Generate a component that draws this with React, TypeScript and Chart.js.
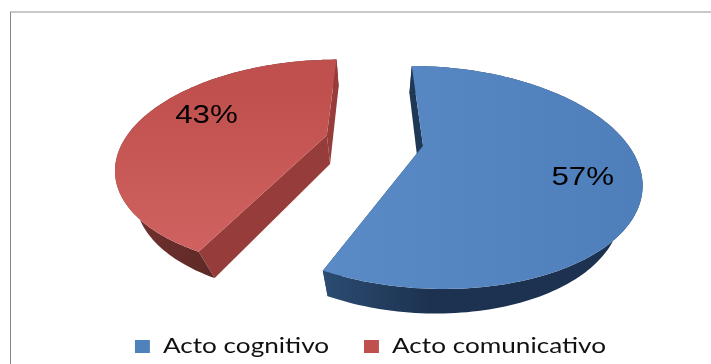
import React, { useEffect, useRef } from "react";
import { Chart, registerables } from "chart.js";

Chart.register(...registerables);

const categories = ["Acto cognitivo", "Acto comunicativo"];
const shares = [57, 43];
const topColors = ["#4F81BD", "#C0504D"];

// Camera used to lay the pie plane out in perspective: ground coordinates are in
// pie radii, z runs from the top face (0) to the bottom face (1).
const VANISH_X = 372;
const VANISH_Y = -215;
const SCALE_U = 0.57;
const SHIFT_U = 0.0063;
const DEPTH_BASE = 0.002813;
const DEPTH_V = 0.000787;
const DEPTH_Z = 0.00022;
const THICKNESS = 0.165;
const EXPLODE = 0.243;
const LABEL_RADIUS = 0.73;
const LABEL_TURN = 0.14;
const LEGEND_STRETCH = 1.245;
const LEGEND_CENTER = 370.5;
const LEGEND_DROP = 3;

function project(u: number, v: number, z: number) {
  const w = DEPTH_BASE + DEPTH_Z * z - DEPTH_V * v;
  return {
    x: VANISH_X + (SCALE_U * u + SHIFT_U) / w,
    y: VANISH_Y + (1 + THICKNESS * z) / w,
  };
}

type Pt = { x: number; y: number };

function fillPath(ctx: CanvasRenderingContext2D, pts: Pt[], fill: string | CanvasGradient) {
  ctx.beginPath();
  pts.forEach((p, i) => (i ? ctx.lineTo(p.x, p.y) : ctx.moveTo(p.x, p.y)));
  ctx.closePath();
  ctx.fillStyle = fill;
  ctx.fill();
}

function linear(ctx: CanvasRenderingContext2D, x0: number, y0: number, x1: number, y1: number, a: string, b: string) {
  const g = ctx.createLinearGradient(x0, y0, x1, y1);
  g.addColorStop(0, a);
  g.addColorStop(1, b);
  return g;
}

const pie3d = {
  id: "pie3d",
  // the legend keeps its own layout and is drawn widened under a transform
  afterLayout(chart: Chart) {
    const legend = chart.legend as any;
    if (legend.__wide) return;
    legend.__wide = true;
    const draw = legend.draw;
    legend.draw = function () {
      const { ctx } = chart;
      ctx.save();
      ctx.translate(LEGEND_CENTER, LEGEND_DROP);
      ctx.scale(LEGEND_STRETCH, 1);
      ctx.translate(-chart.width / 2, 0);
      draw.call(legend);
      ctx.restore();
    };
  },
  beforeDraw(chart: Chart) {
    const { ctx } = chart;
    ctx.save();
    ctx.fillStyle = "#ffffff";
    ctx.fillRect(0, 0, chart.width, chart.height);
    ctx.fillStyle = "#c9c9c9";
    ctx.fillRect(10, 11, chart.width - 10, 2);
    ctx.fillStyle = "#868686";
    ctx.fillRect(10, 12, 1, chart.height - 12);
    ctx.restore();
  },
  beforeDatasetDraw(chart: Chart) {
    const { ctx } = chart;
    const arcs = chart.getDatasetMeta(0).data as any[];
    ctx.save();
    arcs.forEach((arc, i) => {
      const { startAngle, endAngle } = arc.getProps(["startAngle", "endAngle"], true);
      const mid = (startAngle + endAngle) / 2;
      const cu = EXPLODE * Math.cos(mid);
      const cv = EXPLODE * Math.sin(mid);
      const rim = (t: number, z: number) => project(cu + Math.cos(t), cv + Math.sin(t), z);
      const steps = 160;
      const upper: Pt[] = [];
      const lower: Pt[] = [];
      for (let k = 0; k <= steps; k++) {
        const t = startAngle + ((endAngle - startAngle) * k) / steps;
        upper.push(rim(t, 0));
        lower.push(rim(t, 1));
      }
      const hubTop = project(cu, cv, 0);
      const hubLow = project(cu, cv, 1);
      const blue = i === 0;
      const firstWall = [hubTop, upper[0], lower[0], hubLow];
      const lastWall = [hubTop, upper[steps], lower[steps], hubLow];
      const wallFill = blue ? "#1f3856" : "#963c3a";

      // cut wall hidden by the rim, then the rim, then the cut wall in view
      fillPath(ctx, blue ? lastWall : firstWall, wallFill);
      fillPath(
        ctx,
        [...upper, ...lower.slice().reverse()],
        blue
          ? linear(ctx, 325, 0, 430, 0, "#2b4b71", "#1d3250")
          : linear(ctx, 140, 0, 210, 0, "#6f302d", "#5f2a27")
      );
      fillPath(ctx, blue ? firstWall : lastWall, wallFill);
      // top face
      fillPath(
        ctx,
        [hubTop, ...upper],
        blue
          ? linear(ctx, 320, 0, 640, 0, "#5a8bc7", "#4e7fba")
          : linear(ctx, 0, 90, 0, 250, "#C0504D", "#cf6260")
      );
    });
    // percentage labels
    const values = chart.data.datasets[0].data as number[];
    arcs.forEach((arc, i) => {
      const { startAngle, endAngle } = arc.getProps(["startAngle", "endAngle"], true);
      const mid = (startAngle + endAngle) / 2;
      const at = mid + LABEL_TURN;
      const p = project(
        EXPLODE * Math.cos(mid) + LABEL_RADIUS * Math.cos(at),
        EXPLODE * Math.sin(mid) + LABEL_RADIUS * Math.sin(at),
        0
      );
      ctx.save();
      ctx.translate(p.x + 4, p.y + 4);
      ctx.scale(1.25, 1);
      ctx.font = '25px "Liberation Sans"';
      ctx.fillStyle = "#000000";
      ctx.textAlign = "center";
      ctx.textBaseline = "middle";
      ctx.fillText(`${values[i]}%`, 0, 0);
      ctx.restore();
    });
    ctx.restore();
    return false;
  },
};

export default function App() {
  const ref = useRef<HTMLCanvasElement>(null);
  useEffect(() => {
    const chart = new Chart(ref.current!, {
      type: "pie",
      data: {
        labels: categories,
        datasets: [{ data: shares, backgroundColor: topColors, borderWidth: 0 }],
      },
      options: {
        responsive: false,
        animation: false,
        rotation: 0,
        plugins: {
          tooltip: { enabled: false },
          legend: {
            position: "bottom",
            labels: {
              boxWidth: 12,
              boxHeight: 13,
              padding: 28,
              color: "#111111",
              font: { family: "Lato", size: 21 },
            },
          },
        },
      },
      plugins: [pie3d],
    } as any);
    return () => chart.destroy();
  }, []);
  return (
    <div style={{ position: "fixed", left: 0, top: 0, width: 711, height: 364 }}>
      <canvas ref={ref} width={711} height={364} style={{ display: "block" }} />
    </div>
  );
}
